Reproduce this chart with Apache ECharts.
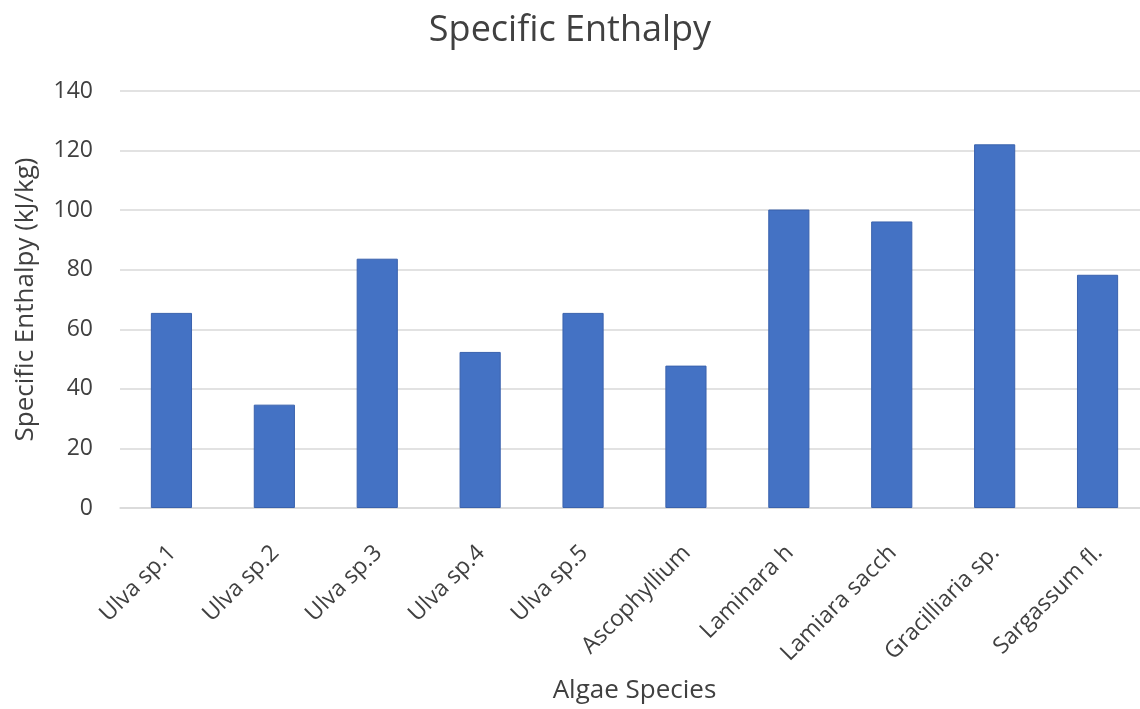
<!DOCTYPE html>
<html>
<head>
<meta charset="utf-8">
<script src="https://cdn.jsdelivr.net/npm/echarts@6/dist/echarts.min.js"></script>
<style>
  html, body { margin: 0; padding: 0; background: #fff; }
  #chart { width: 1140px; height: 709px; }
</style>
</head>
<body>
<div id="chart"></div>
<script>
// Algae species and their specific enthalpy (kJ/kg)
const species = ['Ulva sp.1', 'Ulva sp.2', 'Ulva sp.3', 'Ulva sp.4', 'Ulva sp.5',
  'Ascophyllium', 'Laminara h', 'Lamiara sacch', 'Gracilliaria sp.', 'Sargassum fl.'];
const enthalpy = [65.5, 34.7, 83.7, 52.4, 65.5, 47.8, 100.2, 96.2, 122.1, 78.3];
const yTicks = [0, 20, 40, 60, 80, 100, 120, 140];

const FONT = '"Open Sans", sans-serif';
const TEXT = '#404040';
const chart = echarts.init(document.getElementById('chart'), null, { renderer: 'canvas' });
chart.setOption({
  animation: false,
  backgroundColor: '#ffffff',
  title: {
    text: 'Specific Enthalpy',
    left: 'center',
    top: 8,
    textStyle: { fontFamily: FONT, fontSize: 36, fontWeight: 'normal', color: TEXT }
  },
  grid: { left: 120, right: -9, top: 91, bottom: 201, containLabel: false, outerBoundsMode: 'none' },
  xAxis: {
    type: 'category',
    data: species,
    name: 'Algae Species',
    nameLocation: 'middle',
    nameGap: 170,
    nameMoveOverlap: false,
    nameTextStyle: { fontFamily: FONT, fontSize: 26, color: TEXT },
    axisLine: { lineStyle: { color: '#d9d9d9', width: 1.5 } },
    axisTick: { show: false },
    axisLabel: {
      rotate: 45, margin: 26, interval: 0,
      verticalAlign: 'top', padding: [0, 10, 0, 0],
      fontFamily: FONT, fontSize: 23, color: TEXT
    }
  },
  yAxis: {
    type: 'value',
    min: yTicks[0],
    max: yTicks[yTicks.length - 1],
    interval: yTicks[1] - yTicks[0],
    name: 'Specific Enthalpy (kJ/kg)',
    nameLocation: 'middle',
    nameGap: 81,
    nameRotate: 90,
    nameMoveOverlap: false,
    nameTextStyle: { fontFamily: FONT, fontSize: 26, color: TEXT },
    axisLine: { show: false },
    axisTick: { show: false },
    axisLabel: { margin: 27, fontFamily: FONT, fontSize: 23, color: TEXT },
    splitLine: { lineStyle: { color: '#d9d9d9', width: 1.5 } }
  },
  series: [{
    type: 'bar',
    data: enthalpy,
    barWidth: '40%',
    itemStyle: { color: '#4472c4', borderColor: '#3a62ad', borderWidth: 1 }
  }]
});
</script>
</body>
</html>
